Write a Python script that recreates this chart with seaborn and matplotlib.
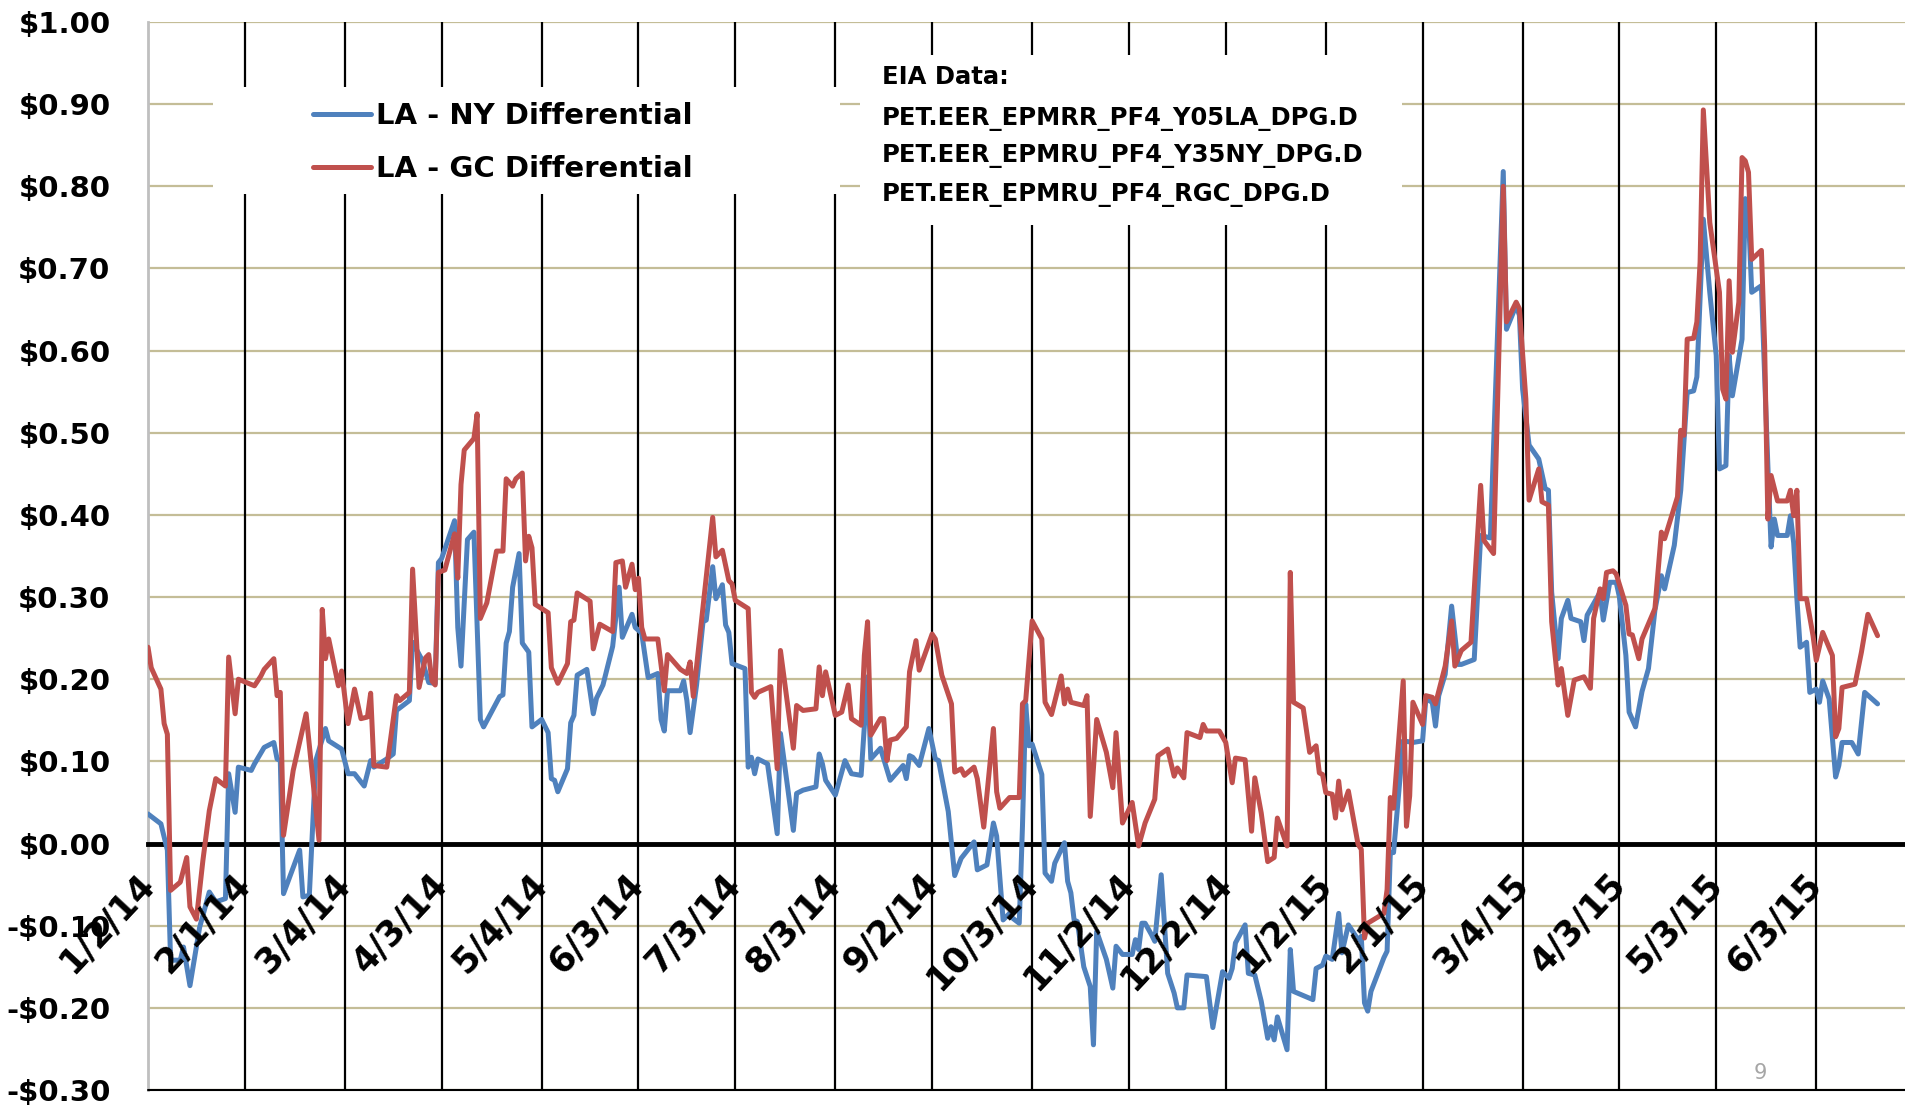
import pandas as pd
import matplotlib
matplotlib.use('Agg')
import matplotlib.pyplot as plt
import matplotlib.transforms as mtransforms
from matplotlib.patches import Rectangle
import seaborn as sns

#%% DATA ~~~~~~~~~~~~~~~~~~~~~~~~~~~~~~~~~~~~~~~~~~~~
START_DATE = '2014-01-02'

# (days since 1/2/14, $/gal)
ny_points = [
    (0, .036), (4, .024), (6, -.008), (7, -.142), (10, -.142), (11, -.126), (13, -.173), (16, -.102), (19, -.059), (21, -.071),
    (24, -.067), (25, .085), (27, .038), (28, .093), (32, .089), (33, .097), (36, .117), (39, .123), (40, .103), (41, .101),
    (42, -.061), (47, -.008), (48, -.065), (50, -.063), (52, .101), (55, .140), (56, .125), (60, .115), (62, .085), (64, .085),
    (67, .070), (69, .101), (70, .093), (74, .103), (76, .109), (77, .162), (81, .174), (82, .245), (85, .223), (87, .196),
    (89, .195), (90, .342), (91, .347), (95, .393), (96, .263), (97, .216), (99, .370), (101, .379), (103, .151), (104, .142),
    (109, .179), (110, .181), (111, .244), (112, .258), (113, .312), (115, .353), (116, .244), (118, .233), (119, .142), (122, .151),
    (124, .135), (125, .079), (126, .077), (127, .063), (130, .091), (131, .147), (132, .156), (133, .205), (136, .212), (138, .158),
    (139, .177), (141, .193), (144, .240), (146, .312), (147, .251), (150, .279), (151, .263), (153, .256), (155, .202), (158, .207),
    (159, .151), (160, .137), (161, .186), (165, .186), (166, .198), (167, .174), (168, .135), (170, .193), (172, .270), (173, .272),
    (175, .337), (176, .298), (178, .315), (179, .266), (180, .257), (181, .219), (185, .213), (186, .093), (187, .105), (188, .085),
    (189, .103), (192, .097), (195, .012), (196, .134), (200, .016), (201, .061), (203, .065), (207, .069), (208, .109), (209, .097),
    (210, .077), (213, .059), (216, .101), (218, .085), (221, .083), (223, .203), (224, .103), (227, .116), (230, .077), (234, .095),
    (235, .079), (236, .107), (237, .105), (239, .095), (242, .140), (244, .103), (245, .101), (248, .039), (250, -.039), (252, -.018),
    (256, .002), (257, -.032), (260, -.026), (262, .025), (263, .009), (265, -.093), (267, -.085), (268, -.091), (270, -.097), (271, .021),
    (272, .170), (273, .119), (274, .121), (277, .084), (278, -.036), (280, -.046), (281, -.024), (284, .001), (285, -.046), (286, -.060),
    (287, -.093), (288, -.095), (290, -.150), (292, -.174), (293, -.245), (294, -.107), (297, -.141), (299, -.176), (300, -.125), (302, -.135),
    (305, -.135), (306, -.117), (307, -.129), (308, -.097), (309, -.097), (311, -.111), (312, -.119), (314, -.038), (316, -.158), (318, -.182),
    (319, -.200), (321, -.200), (322, -.160), (328, -.162), (330, -.224), (333, -.156), (335, -.164), (336, -.152), (337, -.121), (340, -.099),
    (341, -.158), (343, -.160), (345, -.192), (347, -.237), (348, -.223), (349, -.239), (350, -.211), (353, -.251), (354, -.129), (355, -.180),
    (361, -.190), (362, -.152), (364, -.148), (365, -.137), (367, -.141), (369, -.085), (370, -.133), (372, -.099), (375, -.117), (376, -.113),
    (377, -.194), (378, -.204), (379, -.180), (383, -.139), (384, -.131), (385, -.011), (386, -.011), (389, .125), (392, .123), (395, .125),
    (396, .176), (398, .172), (399, .143), (400, .180), (402, .206), (404, .289), (406, .218), (407, .218), (411, .224), (413, .375),
    (415, .373), (416, .372), (420, .818), (421, .626), (424, .655), (425, .643), (426, .553), (428, .485), (431, .468), (433, .432),
    (434, .430), (435, .306), (437, .225), (438, .274), (440, .296), (441, .274), (444, .270), (445, .247), (446, .278), (450, .306),
    (451, .272), (453, .318), (455, .318), (456, .300), (458, .229), (459, .160), (461, .142), (463, .185), (465, .213), (467, .284),
    (469, .326), (470, .310), (473, .363), (475, .430), (477, .549), (479, .551), (480, .568), (482, .760), (484, .671), (486, .594),
    (487, .456), (489, .460), (490, .594), (491, .545), (494, .614), (495, .785), (496, .764), (497, .671), (500, .679), (502, .460),
    (503, .361), (504, .395), (505, .375), (508, .375), (509, .399), (510, .366), (511, .298), (512, .239), (514, .245), (515, .184),
    (517, .188), (518, .172), (519, .198), (521, .176), (523, .081), (524, .095), (525, .123), (528, .123), (530, .109), (532, .184),
    (536, .170),
]

gc_points = [
    (0, .239), (1, .214), (4, .188), (5, .146), (6, .133), (7, -.057), (10, -.047), (12, -.017), (13, -.077), (15, -.092),
    (17, -.021), (19, .040), (21, .079), (24, .070), (25, .227), (27, .158), (28, .200), (33, .192), (35, .204), (36, .212),
    (39, .225), (40, .180), (41, .184), (42, .010), (45, .089), (49, .158), (53, .004), (54, .285), (55, .225), (56, .249),
    (59, .192), (60, .210), (62, .146), (64, .188), (66, .152), (68, .154), (69, .183), (70, .095), (74, .093), (77, .180),
    (78, .174), (81, .184), (82, .334), (84, .190), (86, .226), (87, .230), (88, .198), (89, .193), (90, .330), (92, .333),
    (95, .377), (96, .323), (97, .437), (98, .479), (101, .493), (102, .523), (103, .274), (105, .293), (108, .356), (110, .356),
    (111, .444), (113, .435), (114, .444), (116, .451), (117, .344), (118, .374), (119, .360), (120, .291), (122, .286), (124, .281),
    (125, .214), (127, .195), (130, .219), (131, .270), (132, .272), (133, .305), (137, .295), (138, .237), (140, .267), (144, .258),
    (145, .342), (147, .344), (148, .312), (150, .340), (151, .309), (152, .323), (153, .263), (154, .249), (158, .249), (160, .186),
    (161, .230), (165, .212), (167, .207), (168, .221), (169, .179), (172, .288), (175, .397), (176, .349), (178, .357), (180, .320),
    (181, .316), (182, .296), (186, .286), (187, .184), (188, .178), (189, .184), (193, .191), (195, .091), (196, .235), (200, .116),
    (201, .168), (203, .162), (207, .164), (208, .215), (209, .180), (210, .209), (213, .156), (215, .160), (217, .193), (218, .152),
    (221, .144), (222, .229), (223, .270), (224, .132), (227, .152), (228, .152), (229, .101), (230, .126), (232, .128), (235, .142),
    (236, .209), (238, .247), (239, .211), (243, .255), (244, .249), (246, .205), (249, .170), (250, .087), (252, .091), (253, .083),
    (256, .093), (257, .079), (259, .020), (262, .140), (263, .063), (264, .043), (267, .056), (270, .056), (271, .170), (272, .174),
    (274, .271), (277, .249), (278, .172), (280, .157), (283, .204), (284, .170), (285, .188), (286, .172), (290, .168), (291, .180),
    (292, .033), (294, .151), (297, .111), (299, .068), (300, .135), (302, .025), (305, .050), (307, -.003), (309, .025), (312, .054),
    (313, .107), (316, .115), (318, .082), (319, .092), (321, .080), (322, .135), (326, .129), (327, .145), (328, .137), (332, .137),
    (334, .123), (336, .074), (337, .104), (340, .102), (342, .015), (343, .080), (345, .037), (347, -.022), (349, -.017), (350, .031),
    (353, -.003), (354, .330), (355, .172), (358, .165), (360, .111), (362, .119), (363, .086), (364, .084), (365, .062), (367, .060),
    (368, .031), (369, .076), (370, .041), (372, .064), (375, -.001), (376, -.007), (377, -.115), (378, -.097), (383, -.085), (384, -.056),
    (385, .056), (386, .043), (389, .198), (390, .021), (391, .058), (392, .172), (395, .145), (396, .180), (398, .178), (399, .170),
    (402, .216), (404, .271), (405, .216), (407, .235), (410, .245), (413, .436), (414, .369), (417, .353), (420, .800), (421, .635),
    (424, .659), (425, .651), (427, .541), (428, .418), (431, .456), (432, .416), (434, .412), (435, .270), (437, .193), (438, .213),
    (440, .156), (442, .199), (445, .203), (447, .189), (448, .274), (450, .310), (451, .298), (452, .330), (454, .332), (455, .328),
    (458, .290), (459, .255), (460, .254), (462, .225), (463, .249), (467, .286), (469, .379), (470, .371), (474, .422), (475, .503),
    (476, .497), (477, .614), (479, .615), (480, .635), (481, .708), (482, .893), (484, .756), (487, .671), (488, .553), (489, .541),
    (490, .685), (491, .598), (493, .659), (494, .835), (495, .831), (496, .817), (497, .711), (500, .722), (501, .606), (502, .395),
    (503, .448), (505, .417), (508, .417), (509, .430), (510, .399), (511, .430), (512, .298), (514, .298), (516, .253), (517, .223),
    (519, .257), (522, .229), (523, .130), (524, .140), (525, .190), (529, .194), (531, .233), (533, .279), (536, .253),
]

series_names = ['LA - NY Differential', 'LA - GC Differential']
series_colors = ['#4F81BD', '#C0504D']

tick_dates = ['2014-01-02', '2014-02-01', '2014-03-04', '2014-04-03', '2014-05-04', '2014-06-03',
              '2014-07-03', '2014-08-03', '2014-09-02', '2014-10-03', '2014-11-02', '2014-12-02',
              '2015-01-02', '2015-02-01', '2015-03-04', '2015-04-03', '2015-05-03', '2015-06-03']
tick_labels = ['1/2/14', '2/1/14', '3/4/14', '4/3/14', '5/4/14', '6/3/14', '7/3/14', '8/3/14',
               '9/2/14', '10/3/14', '11/2/14', '12/2/14', '1/2/15', '2/1/15', '3/4/15', '4/3/15',
               '5/3/15', '6/3/15']

ytick_vals = [-0.3, -0.2, -0.1, 0.0, 0.1, 0.2, 0.3, 0.4, 0.5, 0.6, 0.7, 0.8, 0.9, 1.0]
ytick_labels = ['-$0.30', '-$0.20', '-$0.10', '$0.00', '$0.10', '$0.20', '$0.30',
                '$0.40', '$0.50', '$0.60', '$0.70', '$0.80', '$0.90', '$1.00']

eia_lines = ['EIA Data:', 'PET.EER_EPMRR_PF4_Y05LA_DPG.D',
             'PET.EER_EPMRU_PF4_Y35NY_DPG.D', 'PET.EER_EPMRU_PF4_RGC_DPG.D']


def to_frame(points, name):
    '''Turn (day, value) pairs into a dated frame.'''
    df = pd.DataFrame(points, columns=['day', 'value'])
    df['date'] = pd.Timestamp(START_DATE) + pd.to_timedelta(df['day'], unit='D')
    df['series'] = name
    return df


#%% PLOT ~~~~~~~~~~~~~~~~~~~~~~~~~~~~~~~~~~~~~~~~~~~~
sns.set_style('white')
plt.rcParams['font.family'] = ['DejaVu Sans']
plt.rcParams['text.color'] = 'black'
plt.rcParams['xtick.color'] = 'black'
plt.rcParams['ytick.color'] = 'black'

fig = plt.figure(figsize=(19.05, 11.12), dpi=100)
ax = fig.add_axes([148 / 1905, 1 - 1090 / 1112, 1757 / 1905, 1068 / 1112])

for pts, name, col in zip([ny_points, gc_points], series_names, series_colors):
    d = to_frame(pts, name)
    sns.lineplot(data=d, x='date', y='value', color=col, lw=3.6, label=name,
                 estimator=None, sort=False, ax=ax, zorder=4)

ax.set_xlim(pd.Timestamp('2014-01-02'), pd.Timestamp('2015-06-30 12:00'))
ax.set_ylim(-0.3, 1.0)
ax.set_xlabel('')
ax.set_ylabel('')

# spines first: moving a spine resets tick styling
ax.spines['bottom'].set_position(('data', 0))
ax.spines['bottom'].set_linewidth(3.5)
ax.spines['bottom'].set_color('black')
ax.spines['bottom'].set_zorder(3)
ax.spines['left'].set_color('#BFBFBF')
ax.spines['left'].set_linewidth(2)
ax.spines['top'].set_visible(False)
ax.spines['right'].set_visible(False)

# gridlines
ax.set_yticks(ytick_vals)
ax.set_yticklabels(ytick_labels, fontsize=21, fontweight='bold', color='black')
ax.yaxis.grid(True, color='#C4BD97', lw=1.6, zorder=0.5)
ax.set_axisbelow(True)
for td in tick_dates[1:]:
    ax.axvline(pd.Timestamp(td), color='black', lw=1.6, zorder=1)

# x axis crosses at zero
ax.set_xticks(pd.to_datetime(tick_dates))
ax.set_xticklabels(tick_labels, rotation=47, ha='right', va='center',
                   rotation_mode='anchor', fontsize=25, fontweight='bold', color='black')
shift = mtransforms.ScaledTranslation(7 / 100, 0, fig.dpi_scale_trans)
for lab in ax.get_xticklabels():
    lab.set_transform(lab.get_transform() + shift)
ax.tick_params(axis='x', direction='in', length=9, width=3.5, color='black', pad=25)
ax.tick_params(axis='y', length=0, pad=27)
ax.xaxis.set_zorder(5)  # date labels sit over the lines
ax.axhline(-0.3, color='black', lw=1.5, clip_on=False, zorder=3)

# white boxes behind legend and note
ax.add_patch(Rectangle((0.037, 0.839), 0.357, 0.100, transform=ax.transAxes,
                       facecolor='white', edgecolor='none', zorder=2))
ax.add_patch(Rectangle((0.405, 0.810), 0.309, 0.159, transform=ax.transAxes,
                       facecolor='white', edgecolor='none', zorder=2))

leg = ax.legend(loc='center left', bbox_to_anchor=(0.0939, 0.887), frameon=False,
                borderpad=0, borderaxespad=0, handlelength=2.0, handletextpad=0.15,
                labelspacing=0.85, prop={'size': 21, 'weight': 'bold'})
leg.set_zorder(5)
for t in leg.get_texts():
    t.set_color('black')

for txt, fy in zip(eia_lines, [0.9488, 0.9095, 0.8744, 0.8382]):
    ax.text(0.4178, fy, txt, transform=ax.transAxes, ha='left', va='center',
            fontsize=17.5, fontweight='bold', color='black', zorder=5)

fig.text(1760 / 1905, 1 - 1073 / 1112, '9', color='#A6A6A6', fontsize=15,
         ha='center', va='center')

fig.savefig('out.png', dpi=100)
